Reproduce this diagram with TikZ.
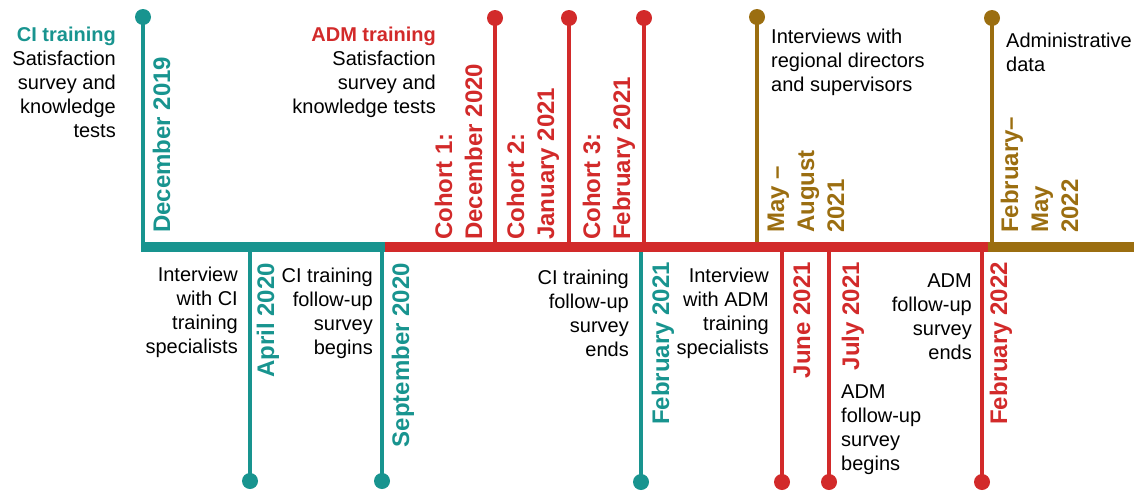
\documentclass[tikz,border=0pt]{standalone}
\usepackage{fontspec}
\setmainfont{Liberation Sans}
\definecolor{ciTeal}{RGB}{24,148,143}
\definecolor{admRed}{RGB}{210,42,42}
\definecolor{dataGold}{RGB}{155,110,16}
\newcommand\bodysize{\fontsize{20}{24}\selectfont}
\newcommand\datesize{\fontsize{24}{30}\selectfont\bfseries}
\newcommand\rblock[1]{\begin{tabular}[t]{@{}r@{}}#1\end{tabular}}
\newcommand\lblock[1]{\begin{tabular}[t]{@{}l@{}}#1\end{tabular}}
\newcommand\dblock[1]{\begin{tabular}[b]{@{}l@{}}#1\end{tabular}}

\begin{document}
\begin{tikzpicture}[x=1pt,y=-1pt,
  pindot/.style={circle,fill=#1,inner sep=0pt,minimum size=16pt},
  stem/.style={draw=#1,line width=4pt},
  band/.style={draw=#1,line width=10pt,line cap=butt},
  body/.style={inner sep=0pt,font=\bodysize,text=black},
  datelbl/.style={inner sep=0pt,font=\datesize,text=#1,rotate=90},
]
\useasboundingbox (0,0) rectangle (1134,490);

% ---- points on the time axis ----
\coordinate (axL)   at (141,247);
\coordinate (axCI)  at (385,247);
\coordinate (axADM) at (988,247);
\coordinate (axR)   at (1134,247);

\coordinate (tDec19) at (143,247);
\coordinate (tCoh1)  at (495,247);
\coordinate (tCoh2)  at (569,247);
\coordinate (tCoh3)  at (644,247);
\coordinate (tMay21) at (757,247);
\coordinate (tFeb22g) at (992,247);

\coordinate (tApr20) at (250,247);
\coordinate (tSep20) at (382,247);
\coordinate (tFeb21) at (641,247);
\coordinate (tJun21) at (782,247);
\coordinate (tJul21) at (829,247);
\coordinate (tFeb22) at (982,247);

% ---- pins above the axis ----
\node[pindot=ciTeal]   (pDec19) at (143,17) {};
\node[pindot=admRed]   (pCoh1)  at (495,18) {};
\node[pindot=admRed]   (pCoh2)  at (569,18) {};
\node[pindot=admRed]   (pCoh3)  at (644,18) {};
\node[pindot=dataGold] (pMay21) at (757,17) {};
\node[pindot=dataGold] (pFeb22g) at (992,18) {};

% ---- pins below the axis ----
\node[pindot=ciTeal] (pApr20) at (250,481) {};
\node[pindot=ciTeal] (pSep20) at (382,481) {};
\node[pindot=ciTeal] (pFeb21) at (641,482) {};
\node[pindot=admRed] (pJun21) at (782,482) {};
\node[pindot=admRed] (pJul21) at (829,482) {};
\node[pindot=admRed] (pFeb22) at (982,482) {};

% ---- stems ----
\draw[stem=ciTeal]   (pDec19.center) -- (tDec19);
\draw[stem=admRed]   (pCoh1.center)  -- (tCoh1);
\draw[stem=admRed]   (pCoh2.center)  -- (tCoh2);
\draw[stem=admRed]   (pCoh3.center)  -- (tCoh3);
\draw[stem=dataGold] (pMay21.center) -- (tMay21);
\draw[stem=dataGold] (pFeb22g.center) -- (tFeb22g);

\draw[stem=ciTeal] (tApr20) -- (pApr20.center);
\draw[stem=ciTeal] (tSep20) -- (pSep20.center);
\draw[stem=ciTeal] (tFeb21) -- (pFeb21.center);
\draw[stem=admRed] (tJun21) -- (pJun21.center);
\draw[stem=admRed] (tJul21) -- (pJul21.center);
\draw[stem=admRed] (tFeb22) -- (pFeb22.center);

% ---- the axis in three phases ----
\draw[band=ciTeal]   (axL)   -- (axCI);
\draw[band=admRed]   (axCI)  -- (axADM);
\draw[band=dataGold] (axADM) -- (axR);

% ---- dates above the axis ----
\node[datelbl=ciTeal, anchor=base west] (lDec19) at (170,233) {December 2019};
\node[datelbl=admRed, anchor=base west] (lCoh1) at (482,240) {\dblock{Cohort 1:\\December 2020}};
\node[datelbl=admRed, anchor=base west] (lCoh2) at (554,240) {\dblock{Cohort 2:\\January 2021}};
\node[datelbl=admRed, anchor=base west] (lCoh3) at (630,240) {\dblock{Cohort 3:\\February 2021}};
\node[datelbl=dataGold, anchor=base west] (lMay21) at (844,233) {\dblock{May –\\August\\2021}};
\node[datelbl=dataGold, anchor=base west] (lFeb22g) at (1078,233) {\dblock{February–\\May\\2022}};

% ---- dates below the axis ----
\node[datelbl=ciTeal, anchor=base east] (lApr20) at (274,263) {April 2020};
\node[datelbl=ciTeal, anchor=base east] (lSep20) at (409,263) {September 2020};
\node[datelbl=ciTeal, anchor=base east] (lFeb21) at (669,262) {February 2021};
\node[datelbl=admRed, anchor=base east] (lJun21) at (810,262) {June 2021};
\node[datelbl=admRed, anchor=base east] (lJul21) at (859,262) {July 2021};
\node[datelbl=admRed, anchor=base east] (lFeb22) at (1007,262) {February 2022};

% ---- descriptions above the axis ----
\node[body, anchor=base east] (dCI) at (116,41)
  {\rblock{\textcolor{ciTeal}{\bfseries CI training}\\Satisfaction\\survey and\\knowledge\\tests}};
\node[body, anchor=base east] (dADM) at (436,41)
  {\rblock{\textcolor{admRed}{\bfseries ADM training}\\Satisfaction\\survey and\\knowledge tests}};
\node[body, anchor=base west] (dInt) at (771,43)
  {\lblock{Interviews with\\regional directors\\and supervisors}};
\node[body, anchor=base west] (dAdmin) at (1006,47)
  {\lblock{Administrative\\data}};

% ---- descriptions below the axis ----
\node[body, anchor=base east] (dIntCI) at (238,281)
  {\rblock{Interview\\with CI\\training\\specialists}};
\node[body, anchor=base east] (dCIbeg) at (373,282)
  {\rblock{CI training\\follow-up\\survey\\begins}};
\node[body, anchor=base east] (dCIend) at (629,284)
  {\rblock{CI training\\follow-up\\survey\\ends}};
\node[body, anchor=base east] (dIntADM) at (769,282)
  {\rblock{Interview\\with ADM\\training\\specialists}};
\node[body, anchor=base west] (dADMbeg) at (841,398)
  {\lblock{ADM\\follow-up\\survey\\begins}};
\node[body, anchor=base east] (dADMend) at (972,287)
  {\rblock{ADM\\follow-up\\survey\\ends}};
\end{tikzpicture}
\end{document}
